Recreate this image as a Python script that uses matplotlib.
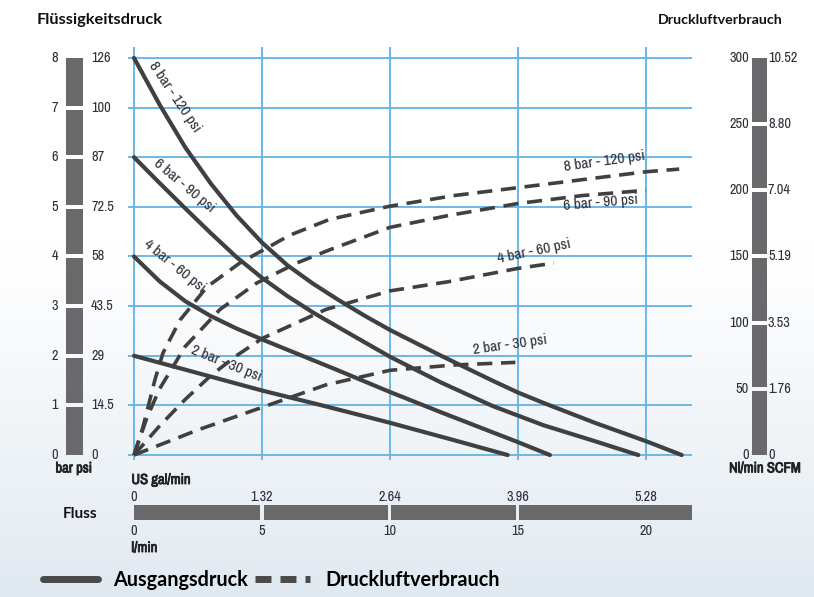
import numpy as np
import matplotlib
matplotlib.use('Agg')
import matplotlib.pyplot as plt
from matplotlib.lines import Line2D
from matplotlib import font_manager as fm
import matplotlib.patheffects as pe

# Ausgangsdruck (bar) über Durchfluss (l/min)
flow_8bar = [0, 1, 2, 3, 4, 5, 6, 7, 8, 9, 10, 12, 14, 15, 16, 18, 20, 21.4]
pres_8bar = [8, 7.06, 6.2, 5.47, 4.83, 4.28, 3.82, 3.45, 3.12, 2.81, 2.52, 2.0, 1.5,
             1.26, 1.05, 0.65, 0.28, 0]
flow_6bar = [0, 1, 2, 3, 4, 5, 6, 7, 8, 10, 12, 14, 16, 18, 19.7]
pres_6bar = [6, 5.48, 4.97, 4.47, 3.99, 3.57, 3.2, 2.87, 2.57, 1.98, 1.46, 0.99, 0.6,
             0.28, 0]
flow_4bar = [0, 1, 2, 3, 4, 5, 6, 7, 8, 10, 12, 14, 15, 16.25]
pres_4bar = [4, 3.5, 3.1, 2.8, 2.55, 2.33, 2.12, 1.91, 1.7, 1.27, 0.86, 0.46, 0.26, 0]
flow_2bar = [0, 2.5, 5, 7.5, 10, 12.5, 14.6]
pres_2bar = [2, 1.65, 1.3, 0.98, 0.65, 0.3, 0]

# Druckluftverbrauch (Nl/min) über Durchfluss (l/min)
air_flow_8bar = [0, 0.35, 0.82, 1.13, 1.8, 2.85, 4.13, 6.08, 7.64, 10, 12.5, 15, 17.5, 20, 21.3]
air_8bar = [0, 21, 57, 77, 102, 127, 145, 166, 178, 188, 196, 202, 208, 214, 216]
air_flow_6bar = [0, 0.5, 1, 2, 3.36, 4.8, 6.35, 7.64, 10, 12.3, 15, 17.5, 20]
air_6bar = [0, 28, 50, 82, 110, 130, 145, 155, 172, 181, 190, 196, 200]
air_flow_4bar = [0, 1, 2, 3, 4, 5, 7.5, 10, 12.3, 15, 16.4]
air_4bar = [0, 22, 42, 60, 75, 88, 110, 124, 131, 141, 145]
air_flow_2bar = [0, 2.5, 5, 7.5, 10, 12.5, 14.9]
air_2bar = [0, 19, 36, 53, 64, 68, 70]

curve_labels = ['8 bar - 120 psi', '6 bar - 90 psi', '4 bar - 60 psi', '2 bar - 30 psi']

# Skalen
bar_ticks = [0, 1, 2, 3, 4, 5, 6, 7, 8]
psi_labels = ['0', '14.5', '29', '43.5', '58', '72.5', '87', '100', '126']
nl_ticks = [0, 50, 100, 150, 200, 250, 300]
scfm_labels = ['0', '1.76', '3.53', '5.19', '7.04', '8.80', '10.52']
lmin_ticks = [0, 5, 10, 15, 20]
gal_labels = ['0', '1.32', '2.64', '3.96', '5.28']
flow_max = 21.8


# schmale Schrift suchen (wie Helvetica Condensed im Original)
def pick_narrow():
    for f in fm.fontManager.ttflist:
        if 'Narrow' in f.name or 'Condensed' in f.name:
            return f.name, 'normal', 1.0
    for f in fm.fontManager.ttflist:
        if 'condensed' in str(f.stretch) and f.name in ('DejaVu Sans', 'Noto Sans', 'Liberation Sans'):
            return f.name, 'condensed', 1.0
    return 'Liberation Sans', 'normal', 0.86


NARROW, STRETCH, SC = pick_narrow()
HEAD = ['Lato', 'DejaVu Sans']
CURVE = '#404040'
BAR = '#69696c'
TXT = '#2e2e38'
GRID = '#62b3e5'


def ntext(target, x, y, s, size=10.3, bold=False, **kw):
    t = target.text(x, y, s, family=[NARROW, 'DejaVu Sans'], fontstretch=STRETCH,
                    fontsize=size * SC, fontweight='bold' if bold else 'normal', **kw)
    if bold:
        # Schrift ohne Fettschnitt: Striche etwas verstärken
        t.set_path_effects([pe.withStroke(linewidth=0.6, foreground=kw.get('color', '#222'))])
    return t


W, H = 814, 597
fig = plt.figure(figsize=(W / 100, H / 100), dpi=100)


def fx(px):
    return px / W


def fy(py):
    return 1 - py / H


# Hintergrund mit leichtem Verlauf unten
bg = fig.add_axes([0, 0, 1, 1], zorder=-10)
t = np.linspace(0, 1, 300)
shade = np.clip((t - 0.4) / 0.6, 0, 1) ** 1.2
top = np.array([1.0, 1.0, 1.0])
bottom = np.array([0.88, 0.915, 0.945])
grad = top[None, :] * (1 - shade[:, None]) + bottom[None, :] * shade[:, None]
bg.imshow(grad[:, None, :], extent=[0, 1, 0, 1], aspect='auto', origin='upper')
bg.axis('off')

# Hauptdiagramm
x_lim = (-0.234, flow_max)
y_lim = (-0.1, 8.22)
main_pos = [fx(128), fy(460), fx(692) - fx(128), fy(47) - fy(460)]
ax = fig.add_axes(main_pos)
ax.set_facecolor('none')
ax.set_xlim(x_lim)
ax.set_ylim(y_lim)
ax.set_xticks(lmin_ticks)
ax.set_yticks(bar_ticks)
ax.grid(True, color=GRID, lw=1.3)
ax.tick_params(length=0, labelbottom=False, labelleft=False)
for s in ax.spines.values():
    s.set_visible(False)

solid = [(flow_8bar, pres_8bar), (flow_6bar, pres_6bar),
         (flow_4bar, pres_4bar), (flow_2bar, pres_2bar)]
for xs, ys in solid:
    ax.plot(xs, ys, color=CURVE, lw=3.0, solid_capstyle='round',
            solid_joinstyle='round', zorder=3)

ax2 = ax.twinx()
ax2.set_ylim(y_lim[0] * 37.5, y_lim[1] * 37.5)
ax2.axis('off')
dashed = [(air_flow_8bar, air_8bar), (air_flow_6bar, air_6bar),
          (air_flow_4bar, air_4bar), (air_flow_2bar, air_2bar)]
for xs, ys in dashed:
    ax2.plot(xs, ys, color=CURVE, lw=2.6, linestyle=(0, (4.2, 2.4)), zorder=3)

# Beschriftung der Kurven
solid_pos = [(1.6, 7.22, -56), (1.95, 5.42, -40), (1.6, 3.8, -39), (3.6, 1.84, -22)]
for lab, (x, y, r) in zip(curve_labels, solid_pos):
    ntext(ax, x, y, lab, size=11.2, rotation=r, rotation_mode='anchor', ha='center',
          va='center', color=TXT)
dash_pos = [(18.4, 222, 8), (18.25, 190.4, 5), (15.63, 154, 12), (14.7, 83, 8)]
for lab, (x, y, r) in zip(curve_labels, dash_pos):
    ntext(ax2, x, y, lab, size=11.2, rotation=r, rotation_mode='anchor', ha='center',
          va='center', color=TXT)

# linke Skala (bar / psi)
ax_l = fig.add_axes([0, main_pos[1], fx(125), main_pos[3]])
ax_l.set_xlim(0, 125)
ax_l.set_ylim(y_lim)
ax_l.axis('off')
gap = 0.08
for i in range(len(bar_ticks) - 1):
    lo = bar_ticks[i] + (gap / 2 if i > 0 else 0)
    hi = bar_ticks[i + 1] - (gap / 2 if i < len(bar_ticks) - 2 else 0)
    ax_l.bar(74, hi - lo, bottom=lo, width=17, color=BAR)
for v, p in zip(bar_ticks, psi_labels):
    ntext(ax_l, 58, v, str(v), ha='right', va='center', color=TXT)
    ntext(ax_l, 91, v, p, ha='left', va='center', color=TXT)
ntext(ax_l, 74, -0.27, 'bar psi', size=10.5, bold=True, ha='center', va='center',
      color='#222')

# rechte Skala (Nl/min / SCFM)
ax_r = fig.add_axes([fx(700), main_pos[1], fx(814) - fx(700), main_pos[3]])
ax_r.set_xlim(700, 814)
ax_r.set_ylim(y_lim[0] * 37.5, y_lim[1] * 37.5)
ax_r.axis('off')
gap_r = 3.0
for i in range(len(nl_ticks) - 1):
    lo = nl_ticks[i] + (gap_r / 2 if i > 0 else 0)
    hi = nl_ticks[i + 1] - (gap_r / 2 if i < len(nl_ticks) - 2 else 0)
    ax_r.bar(759.5, hi - lo, bottom=lo, width=15, color=BAR)
for v, s in zip(nl_ticks, scfm_labels):
    ntext(ax_r, 749, v, str(v), ha='right', va='center', color=TXT)
    ntext(ax_r, 768, v, s, ha='left', va='center', color=TXT)
ntext(ax_r, 765, -0.27 * 37.5, 'Nl/min SCFM', size=10.5, bold=True, ha='center',
      va='center', color='#222')

# untere Skala (l/min / US gal/min)
ax_b = fig.add_axes([main_pos[0], fy(560), main_pos[2], fy(470) - fy(560)])
ax_b.set_xlim(x_lim)
ax_b.set_ylim(560, 470)
ax_b.axis('off')
gap_b = 0.12
edges = lmin_ticks[:-1] + [flow_max]
for i in range(len(edges) - 1):
    lo = edges[i] + (gap_b / 2 if i > 0 else 0)
    hi = edges[i + 1] - (gap_b / 2 if i < len(edges) - 2 else 0)
    ax_b.barh(512.5, hi - lo, left=lo, height=15, color=BAR)
for v, g in zip(lmin_ticks, gal_labels):
    ntext(ax_b, v, 497, g, ha='center', va='center', color=TXT)
    ntext(ax_b, v, 531, str(v), ha='center', va='center', color=TXT)
ntext(ax_b, -0.1, 480, 'US gal/min', size=10.5, bold=True, ha='left', va='center',
      color='#222')
ntext(ax_b, -0.1, 548, 'l/min', size=10.5, bold=True, ha='left', va='center',
      color='#222')

# Überschriften
fig.text(fx(37), fy(20), 'Flüssigkeitsdruck', ha='left', va='center',
         family=HEAD, fontsize=11.8, fontweight='bold', color='#111')
fig.text(fx(783), fy(20), 'Druckluftverbrauch', ha='right', va='center',
         family=HEAD, fontsize=10.3, fontweight='bold', color='#111')
fig.text(fx(80), fy(514), 'Fluss', ha='center', va='center',
         family=HEAD, fontsize=11, fontweight='bold', color='#111')

# Legende
handles = [Line2D([], [], color='#4a4a4a', lw=5, solid_capstyle='round'),
           Line2D([], [], color='#4a4a4a', lw=5, linestyle=(0, (2.3, 1.3)))]
fig.legend(handles, ['Ausgangsdruck', 'Druckluftverbrauch'], loc='center left',
           bbox_to_anchor=(fx(43), fy(580)), ncol=2, frameon=False,
           handlelength=2.75, handletextpad=0.8, columnspacing=0.35,
           borderpad=0, borderaxespad=0,
           prop={'family': HEAD, 'size': 14.3, 'weight': 'bold'})

fig.savefig('out.png', dpi=100)
